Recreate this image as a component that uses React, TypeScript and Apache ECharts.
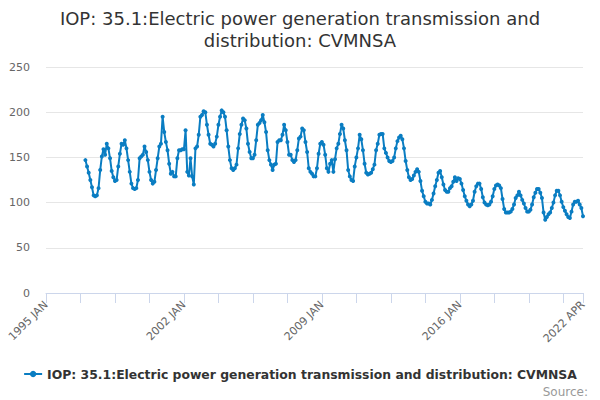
import React, { useEffect, useRef } from 'react';
import * as echarts from 'echarts';

const MONTHS = ['JAN', 'FEB', 'MAR', 'APR', 'MAY', 'JUN', 'JUL', 'AUG', 'SEP', 'OCT', 'NOV', 'DEC'];

// 1995 JAN .. 2022 APR, one category per month
const categories: string[] = [];
for (let y = 1995; y <= 2022; y++) {
  for (let m = 0; m < 12; m++) {
    if (y === 2022 && m > 3) break;
    categories.push(y + ' ' + MONTHS[m]);
  }
}

// no values before 1997
const before1997: (number | null)[] = new Array(24).fill(null);

const values1997to2002 = [
  147, 140, 133, 125, 117, 108, 107, 108, 116, 136, 151, 159,
  153, 165, 160, 149, 135, 128, 124, 125, 140, 154, 165, 164,
  169, 160, 147, 134, 121, 116, 115, 116, 125, 149, 151, 153,
  162, 156, 147, 134, 125, 121, 123, 136, 149, 162, 165, 195,
  178, 167, 158, 143, 132, 134, 129, 129, 149, 158, 158, 159,
  159, 180, 134, 130, 149, 129, 120, 160, 162, 175, 195, 197,
];

const values2003to2009 = [
  201, 200, 186, 175, 165, 164, 162, 165, 173, 186, 195, 202,
  200, 195, 180, 162, 147, 138, 136, 138, 142, 160, 176, 186,
  193, 191, 182, 165, 156, 149, 149, 153, 169, 186, 188, 191,
  197, 189, 178, 158, 147, 142, 136, 142, 143, 167, 169, 169,
  175, 186, 180, 167, 153, 153, 147, 145, 147, 158, 171, 173,
  182, 180, 167, 156, 138, 134, 132, 129, 129, 138, 154, 165,
  167, 164, 153, 138, 134,
];

const values2009to2015 = [
  143, 147, 134, 148, 160, 165, 176,
  186, 182, 169, 158, 136, 129, 125, 124, 140, 150, 160, 175,
  170, 158, 143, 133, 131, 132, 133, 137, 142, 158, 165, 175,
  176, 176, 160, 155, 150, 146, 145, 146, 150, 160, 168, 172,
  174, 170, 160, 146, 136, 128, 125, 126, 130, 134, 137, 134,
  124, 113, 107, 101, 99, 99, 98, 103, 110, 118, 125, 133,
  135, 128, 120, 114, 112, 112, 116, 118, 123, 128, 124, 127,
];

const values2016to2022 = [
  126, 121, 114, 107, 102, 98, 96, 98, 102, 112, 118, 121,
  121, 115, 106, 100, 98, 97, 98, 101, 107, 115, 119, 120,
  119, 116, 104, 93, 89, 89, 89, 90, 93, 98, 105, 108,
  112, 108, 103, 99, 94, 90, 90, 92, 98, 106, 111, 115,
  115, 111, 105, 89, 81, 84, 87, 89, 94, 100, 108, 113,
  113, 108, 101, 95, 91, 87, 84, 83, 90, 98, 101, 101,
  102, 98, 94, 85,
];

const seriesValues = [
  ...before1997,
  ...values1997to2002,
  ...values2003to2009,
  ...values2009to2015,
  ...values2016to2022,
];

const seriesName = 'IOP: 35.1:Electric power generation transmission and distribution: CVMNSA';
const lastIndex = categories.length - 1;

const App: React.FC = () => {
  const chartRef = useRef<HTMLDivElement>(null);

  useEffect(() => {
    const myChart = echarts.init(chartRef.current, null, { renderer: 'svg' });

    const option = {
      animation: false,
      textStyle: { fontFamily: 'DejaVu Sans' },
      title: {
        text: 'IOP: 35.1:Electric power generation transmission and\ndistribution: CVMNSA',
        left: 'center',
        top: 2,
        textStyle: {
          fontSize: 18,
          fontWeight: 'normal',
          color: '#333333',
          lineHeight: 22,
        },
      },
      grid: {
        left: 46,
        right: 17,
        top: 67,
        bottom: 107,
      },
      legend: {
        bottom: 15,
        left: 'center',
        itemWidth: 18,
        itemHeight: 8,
        itemGap: 6,
        textStyle: {
          fontSize: 12.4,
          fontWeight: 'bold',
          color: '#333333',
        },
        data: [seriesName],
      },
      xAxis: {
        type: 'category',
        boundaryGap: false,
        data: categories,
        axisLine: { lineStyle: { color: '#ccd6eb' } },
        axisTick: {
          length: 10,
          lineStyle: { color: '#ccd6eb' },
          interval: (index: number) => index % 21 === 0 || index === lastIndex,
        },
        axisLabel: {
          rotate: 45,
          color: '#666666',
          fontSize: 11,
          margin: 10,
          interval: (index: number) => index % 84 === 0 || index === lastIndex,
        },
      },
      yAxis: {
        type: 'value',
        min: 0,
        max: 250,
        interval: 50,
        axisLine: { show: false },
        axisTick: { show: false },
        axisLabel: { color: '#666666', fontSize: 11, margin: 16 },
        splitLine: { lineStyle: { color: '#e6e6e6' } },
      },
      series: [
        {
          name: seriesName,
          type: 'line',
          data: seriesValues,
          color: '#0a7dc2',
          lineStyle: { width: 2 },
          symbol: 'circle',
          symbolSize: 4,
          showSymbol: true,
          showAllSymbol: true,
        },
      ],
      graphic: [
        {
          type: 'text',
          right: 12,
          bottom: 2,
          style: {
            text: 'Source:',
            fontSize: 12,
            fill: '#999999',
            fontFamily: 'DejaVu Sans',
          },
        },
      ],
    };

    myChart.setOption(option);

    return () => {
      myChart.dispose();
    };
  }, []);

  return (
    <div
      ref={chartRef}
      style={{
        position: 'fixed',
        left: 0,
        top: 0,
        width: '600px',
        height: '400px',
        background: '#ffffff',
      }}
    ></div>
  );
};

export default App;
